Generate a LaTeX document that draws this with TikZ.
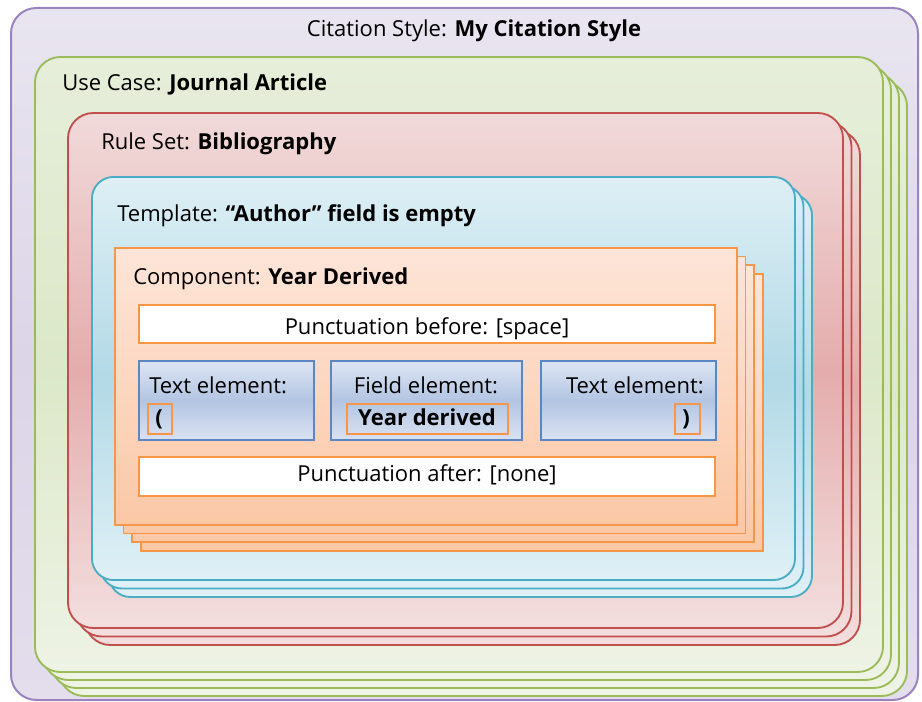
\documentclass[tikz,border=0pt]{standalone}
\usepackage{fontspec}
\setmainfont{Open Sans}
\definecolor{purpB}{HTML}{9A83BE}
\definecolor{purpT}{HTML}{E9E5F0}
\definecolor{purpM}{HTML}{DCD5E8}
\definecolor{purpBt}{HTML}{E3DDEC}
\definecolor{grnB}{HTML}{9BBB59}
\definecolor{grnT}{HTML}{E6EEDA}
\definecolor{grnM}{HTML}{DCE8C9}
\definecolor{grnBt}{HTML}{EEF3E5}
\definecolor{redB}{HTML}{C0504D}
\definecolor{redT}{HTML}{F1DADA}
\definecolor{redM}{HTML}{E4ACAC}
\definecolor{redBt}{HTML}{F3DEDE}
\definecolor{bluB}{HTML}{4BACC6}
\definecolor{bluT}{HTML}{DEEFF5}
\definecolor{bluM}{HTML}{B2D9E6}
\definecolor{bluBt}{HTML}{DFF0F6}
\definecolor{orgB}{HTML}{F79646}
\definecolor{orgT}{HTML}{FDE5D8}
\definecolor{orgBt}{HTML}{FBC8A7}
\definecolor{elB}{HTML}{5B86C4}
\definecolor{elT}{HTML}{DDE5F2}
\definecolor{elM}{HTML}{B3C5E3}
\definecolor{elBt}{HTML}{D9E2F1}
\newcommand\stacklayer[7]{%
  \foreach \k in {#5,...,1}{%
    \path[#6] ({#1+\k*#7},{#2+\k*#7}) rectangle ({#3+\k*#7},{#4+\k*#7});
  }%
  \path[#6] (#1,#2) rectangle (#3,#4);
}
\tikzset{
  purplayer/.style={draw=purpB, line width=1.5pt, rounded corners=19pt, top color=purpT, bottom color=purpBt, middle color=purpM},
  grnlayer/.style={draw=grnB, line width=1.4pt, rounded corners=19pt, top color=grnT, bottom color=grnBt, middle color=grnM},
  redlayer/.style={draw=redB, line width=1.4pt, rounded corners=19pt, top color=redT, bottom color=redBt, middle color=redM},
  blulayer/.style={draw=bluB, line width=1.4pt, rounded corners=16pt, top color=bluT, bottom color=bluBt, middle color=bluM},
  orglayer/.style={draw=orgB, line width=1.2pt, top color=orgT, bottom color=orgBt},
  punctbox/.style={draw=orgB, line width=1.1pt, fill=white},
  elembox/.style={draw=elB, line width=1.3pt, top color=elT, bottom color=elBt, middle color=elM},
  valbox/.style={draw=orgB, line width=0.9pt, inner sep=0pt},
  lbl/.style={inner sep=0pt, anchor=base west, font=\fontsize{16.5}{20}\selectfont},
  clbl/.style={inner sep=0pt, anchor=base, font=\fontsize{16.5}{20}\selectfont},
}
\begin{document}
\begin{tikzpicture}[x=0.75pt, y=-0.75pt]
\useasboundingbox (0,0) rectangle (922,702);
% outer purple
\path[purplayer] (11,8) rectangle (918,700);
\node[clbl] (cs) at (474,36.5) {Citation Style: \textbf{My Citation Style}};
% green
\stacklayer{35}{57}{883}{672}{3}{grnlayer}{8}
\node[lbl] (uc) at (62,91) {Use Case: \textbf{Journal Article}};
% red
\stacklayer{68}{113}{843}{628}{2}{redlayer}{8.5}
\node[lbl] (rs) at (101,150) {Rule Set: \textbf{Bibliography}};
% blue
\stacklayer{92}{177}{795}{580}{2}{blulayer}{8.5}
\node[lbl] (tp) at (117,221.5) {Template: \textbf{“Author” field is empty}};
% orange
\stacklayer{115}{248}{737}{525}{3}{orglayer}{8.6}
\node[lbl] (cp) at (133,285) {Component: \textbf{Year Derived}};
% punctuation boxes
\path[punctbox] (139,305) rectangle (715,343);
\node[clbl] (pb) at (427,335) {Punctuation before: [space]};
\path[punctbox] (139,457) rectangle (715,496);
\node[clbl] (pa) at (427,482) {Punctuation after: [none]};
% element boxes
\path[elembox] (139,361) rectangle (314,440);
\path[elembox] (331,361) rectangle (522,440);
\path[elembox] (541,361) rectangle (716,440);
\node[lbl] (t1) at (149,394) {Text element:};
\node[clbl] (f1) at (426,394) {Field element:};
\node[lbl, anchor=base east] (t2) at (704,394) {Text element:};
\path[valbox] (148,404) rectangle (172,434);
\path[valbox] (347,404) rectangle (508,434);
\path[valbox] (675,404) rectangle (700,434);
\node[lbl] (v1) at (155,426) {\textbf{(}};
\node[clbl] (v2) at (427,426) {\textbf{Year derived}};
\node[lbl] (v3) at (682,426) {\textbf{)}};
\end{tikzpicture}
\end{document}
